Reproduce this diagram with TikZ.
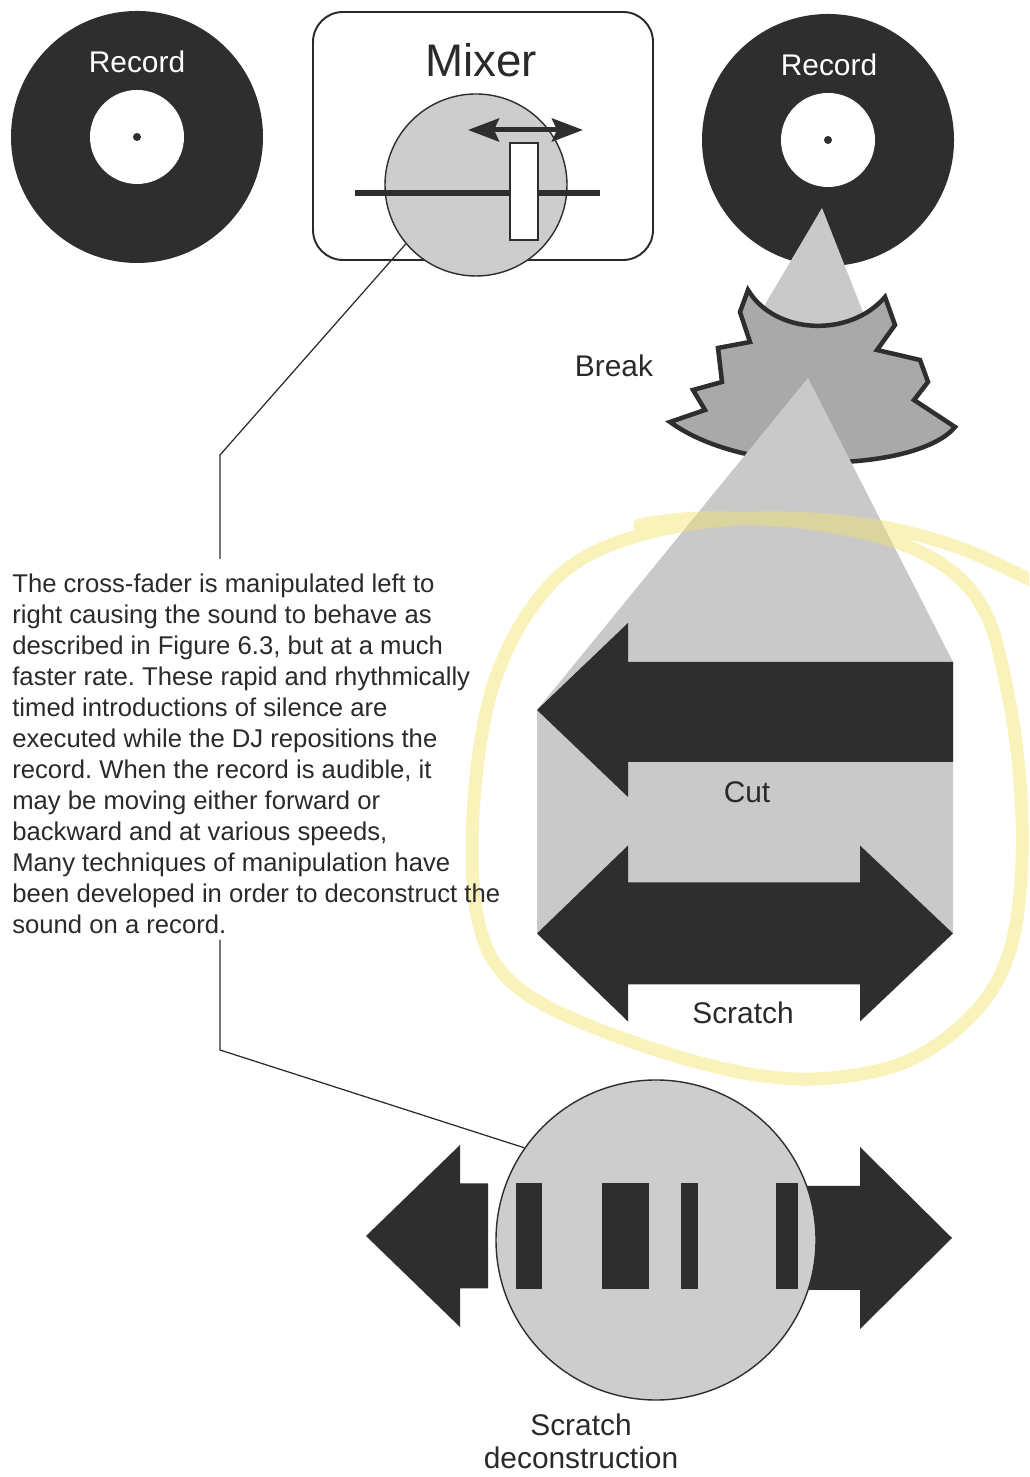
\documentclass[tikz,border=0pt]{standalone}
\usepackage{fontspec}
\setmainfont{Liberation Sans}
\frenchspacing
\usetikzlibrary{arrows.meta,calc}
\definecolor{dunkel}{HTML}{2E2E2E}
\definecolor{hell}{HTML}{CDCDCD}
\definecolor{kegelgrau}{HTML}{C9C9C9}
\definecolor{bruch}{HTML}{A9A9A9}
\definecolor{schrift}{HTML}{2A2A2A}
\definecolor{gelb}{HTML}{F3E36A}
\tikzset{
  platte/.style={circle,fill=dunkel,minimum size=5.04cm,inner sep=0pt},
  loch/.style={circle,fill=white,minimum size=1.88cm,inner sep=0pt},
  pfeil/.style={fill=dunkel},
  kegel/.style={fill=kegelgrau},
  scheibe/.style={circle,fill=hell,draw=dunkel,line width=0.8pt,inner sep=0pt},
  linie/.style={schrift,line width=0.7pt},
  beschr/.style={schrift,font=\fontsize{17}{19}\selectfont},
  marker/.style={gelb,opacity=0.45,line width=0.26cm,line cap=round},
  spitze/.style={-{Stealth[length=0.62cm,width=0.46cm,inset=0.1cm]}},
}
\begin{document}
\begin{tikzpicture}
  \clip (0,0) rectangle (20.58,29.54);
  \fill[white] (0,0) rectangle (20.58,29.54);
  \node[platte] (plattel) at (2.74,26.80) {};
  \node[loch] at (plattel) {};
  \fill[dunkel] (plattel) circle (0.08);
  \node[beschr,white] at (2.74,28.30) {Record};
  \node[platte] (platter) at (16.56,26.74) {};
  \node[loch] at (platter) {};
  \fill[dunkel] (platter) circle (0.08);
  \node[beschr,white] at (16.58,28.24) {Record};
  \draw[schrift,line width=1.1pt,rounded corners=0.6cm] (6.26,24.34) rectangle (13.06,29.30);
  \node[schrift,font=\fontsize{26}{30}\selectfont] at (9.62,28.34) {Mixer};
  \node[scheibe,minimum size=3.64cm] (fader) at (9.52,25.84) {};
  \draw[dunkel,line width=0.12cm] (7.10,25.68) -- (12.00,25.68);
  \draw[dunkel,line width=1pt,fill=white] (10.20,24.74) rectangle (10.76,26.68);
  \draw[dunkel,line width=0.1cm,spitze] (10.5,26.94) -- (9.36,26.94);
  \draw[dunkel,line width=0.1cm,spitze] (10.5,26.94) -- (11.66,26.94);
  \fill[kegel] (16.44,25.38) -- (15.00,22.94) -- (17.40,22.94) -- cycle;
  \draw[fill=bruch,draw=dunkel,line width=0.09cm,line join=miter] (14.96,23.74)
    .. controls (15.50,22.84) and (17.00,22.78) .. (17.70,23.60) -- (17.90,23.04)
    -- (17.54,22.54) -- (18.40,22.34) -- (18.56,21.90) -- (18.28,21.54) -- (19.10,21.00)
    .. controls (18.40,20.14) and (15.00,19.94) .. (13.40,21.10) -- (14.10,21.34)
    -- (13.86,21.74) -- (14.44,21.90) -- (14.36,22.58) -- (15.00,22.70) -- (14.80,23.30) -- cycle;
  \node[beschr] at (12.28,22.22) {Break};
  \fill[kegel] (16.16,21.98) -- (19.06,16.30) -- (19.06,10.87) -- (10.74,10.87) -- (10.74,15.34) -- cycle;
  \fill[pfeil] (10.74,15.34) -- (12.56,17.08) -- (12.56,16.30) -- (19.06,16.30) -- (19.06,14.30)
    -- (12.56,14.30) -- (12.56,13.60) -- cycle;
  \fill[pfeil] (10.74,10.87) -- (12.56,12.63) -- (12.56,11.89) -- (17.20,11.89) -- (17.20,12.63)
    -- (19.06,10.87) -- (17.20,9.11) -- (17.20,9.85) -- (12.56,9.85) -- (12.56,9.11) -- cycle;
  \node[beschr] at (14.94,13.70) {Cut};
  \node[beschr] at (14.86,9.28) {Scratch};
  \draw[marker] plot[smooth,tension=0.6] coordinates {(20.80,17.84) (19.20,18.58) (17.40,19.04)
    (15.20,19.18) (13.20,18.94) (11.60,18.34) (10.60,17.34) (9.90,15.94) (9.56,14.34) (9.44,12.54)
    (9.56,11.14) (10.00,10.14) (11.00,9.38) (13.00,8.58) (15.00,8.06) (16.60,7.98) (18.20,8.34)
    (19.50,9.30) (20.20,10.54) (20.44,12.34) (20.36,14.34) (20.06,16.14) (19.70,17.30) (19.00,18.14)
    (17.80,18.74) (16.00,19.10) (14.00,19.18) (12.80,19.04)};
  \node[schrift,anchor=north west,inner xsep=0pt,inner ysep=0.3cm,align=left,
    font=\fontsize{14.6}{17.6}\selectfont] (note) at (0.24,18.36)
    {The cross-fader is manipulated left to\\
     right causing the sound to behave as\\
     described in Figure 6.3, but at a much\\
     faster rate. These rapid and rhythmically\\
     timed introductions of silence are\\
     executed while the DJ repositions the\\
     record. When the record is audible, it\\
     may be moving either forward or\\
     backward and at various speeds,\\
     Many techniques of manipulation have\\
     been developed in order to deconstruct the\\
     sound on a record.};
  \fill[pfeil] (7.32,4.82) -- (9.20,6.64) -- (9.20,5.87) -- (9.76,5.87) -- (9.76,3.77)
    -- (9.20,3.77) -- (9.20,3.00) -- cycle;
  \fill[pfeil] (16.00,5.82) -- (17.20,5.82) -- (17.20,6.60) -- (19.04,4.78) -- (17.20,2.96)
    -- (17.20,3.74) -- (16.00,3.74) -- cycle;
  \node[scheibe,minimum size=6.4cm] (deco) at (13.12,4.74) {};
  \foreach \a/\b in {10.32/10.84,12.04/12.98,13.62/13.96,15.52/15.96}
    \fill[pfeil] (\a,3.76) rectangle (\b,5.88);
  \node[beschr,align=center] at (11.62,0.71) {Scratch\\deconstruction};
  \coordinate (k1) at (4.40,20.44);
  \coordinate (k2) at (4.40,8.54);
  \coordinate (k3) at ($(note.south)+(0,0.18)$);
  \draw[linie] (fader.220) -- (k1) -- (k1 |- note.north);
  \draw[linie] (k2 |- k3) -- (k2) -- (deco.145);
\end{tikzpicture}
\end{document}
